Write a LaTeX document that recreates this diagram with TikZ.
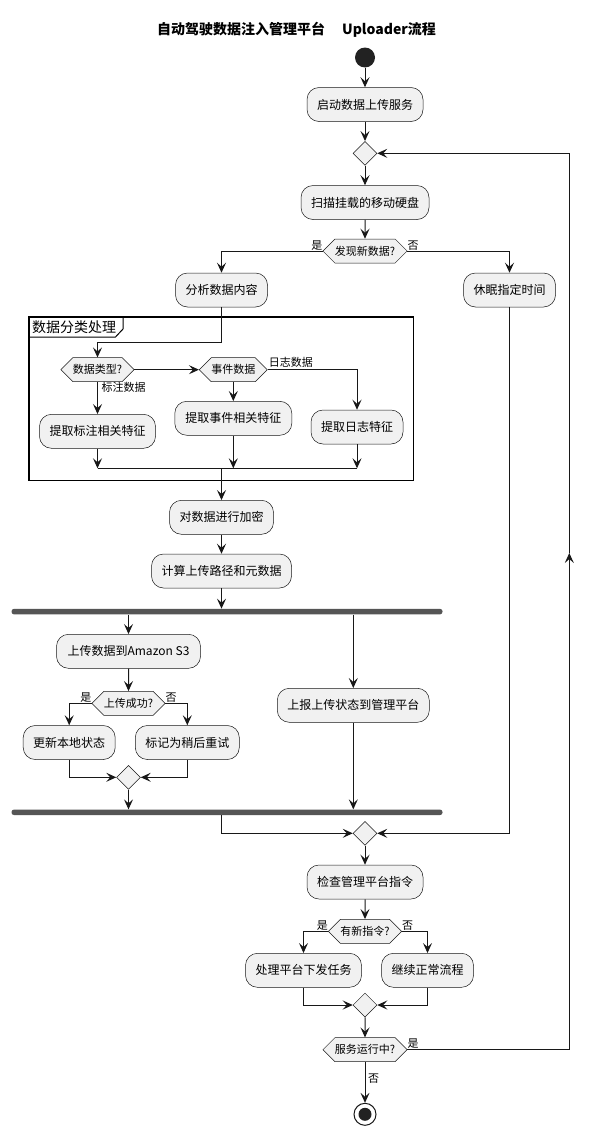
\documentclass[tikz,border=0pt]{standalone}
\usepackage{fontspec}
\setmainfont{Noto Sans CJK SC}
\usetikzlibrary{arrows.meta,shapes.symbols,shapes.geometric,calc}
\definecolor{lc}{HTML}{181818}
\definecolor{bx}{HTML}{F1F1F1}
\definecolor{barc}{HTML}{555555}
\definecolor{dotc}{HTML}{222222}
\begin{document}
\begin{tikzpicture}[x=1pt,y=-1pt,
  act/.style={draw=lc, line width=0.5pt, fill=bx, rounded corners=12pt, minimum height=34pt, inner xsep=10pt, inner ysep=0pt, font=\fontsize{12}{14}\selectfont},
  dec/.style={signal, signal to=west and east, signal pointer angle=90, draw=lc, line width=0.5pt, fill=bx, minimum height=24pt, inner xsep=0pt, inner ysep=0pt, font=\fontsize{11}{13}\selectfont},
  mrg/.style={diamond, aspect=1, draw=lc, line width=0.5pt, fill=bx, minimum width=24pt, minimum height=24pt, inner sep=0pt},
  conn/.style={draw=lc, line width=1pt},
  arr/.style={draw=lc, line width=1pt, -{Stealth[length=10pt,width=9pt,inset=4pt]}},
  lbl/.style={font=\fontsize{11}{13}\selectfont, inner sep=0pt},
  forkbar/.style={fill=barc, rounded corners=2.5pt, minimum width=431pt, minimum height=5.5pt, inner sep=0pt}
]
\useasboundingbox[fill=white] (0,0) rectangle (594,1135);

% title
\node[inner sep=0pt, font=\bfseries\fontsize{14}{16}\selectfont] (title) at (296.5,29.3) {自动驾驶数据注入管理平台\hspace{17pt}Uploader流程};

% frame
\node[draw=black, line width=1.5pt, minimum width=384.5pt, minimum height=163.5pt, inner sep=0pt] (fr) at (221.25,398.75) {};
\draw[line width=1pt] (29,337) -- (115.5,337) -- (123,329) -- (123,317);
\node[inner sep=0pt, anchor=west, font=\fontsize{14}{16}\selectfont] (frl) at (32,327) {数据分类处理};

% nodes
\node[circle, fill=dotc, minimum size=20pt, inner sep=0pt] (st) at (365,57.5) {};
\node[act, minimum width=116pt] (a1) at (365,104.5) {启动数据上传服务};
\node[mrg] (m1) at (365,153.3) {};
\node[act, minimum width=128pt] (a2) at (365,202.5) {扫描挂载的移动硬盘};
\node[dec, minimum width=84pt] (q1) at (365,251) {发现新数据?};
\node[act, minimum width=92pt] (a3) at (221.5,290) {分析数据内容};
\node[act, minimum width=92pt] (a4) at (509.5,290) {休眠指定时间};

\node[dec, minimum width=73pt] (q2) at (97.5,369.7) {数据类型?};
\node[dec, minimum width=67pt] (q3) at (233.3,369.7) {事件数据};
\node[act, minimum width=116pt] (b1) at (97.5,431.3) {提取标注相关特征};
\node[act, minimum width=117pt] (b2) at (233.3,418.3) {提取事件相关特征};
\node[act, minimum width=91pt] (b3) at (357,427) {提取日志特征};

\node[act, minimum width=104pt] (c1) at (221.5,517.3) {对数据进行加密};
\node[act, minimum width=140pt] (c2) at (221.5,571) {计算上传路径和元数据};

\node[forkbar] (f1) at (227,611.6) {};
\node[act, minimum width=144pt] (d1) at (128.5,651.3) {上传数据到Amazon S3};
\node[dec, minimum width=72pt] (q4) at (128.5,703.3) {上传成功?};
\node[act, minimum width=91pt] (d2) at (69.2,742.5) {更新本地状态};
\node[act, minimum width=104pt] (d3) at (187.3,742.5) {标记为稍后重试};
\node[mrg] (m2) at (128.5,777.3) {};
\node[act, minimum width=152pt] (d4) at (353.3,705.3) {上报上传状态到管理平台};
\node[forkbar] (f2) at (227,812.3) {};

\node[mrg] (m3) at (365,833.3) {};
\node[act, minimum width=116pt] (e1) at (365,882) {检查管理平台指令};
\node[dec, minimum width=73pt] (q5) at (365,931.3) {有新指令?};
\node[act, minimum width=115pt] (e2) at (303.5,970.3) {处理平台下发任务};
\node[act, minimum width=92pt] (e3) at (427.5,970.3) {继续正常流程};
\node[mrg] (m4) at (365,1005) {};
\node[dec, minimum width=84pt] (q6) at (365,1049.7) {服务运行中?};
\node[circle, draw=lc, line width=1pt, fill=white, minimum size=22pt, inner sep=0pt] (en) at (365,1114.3) {};
\node[circle, fill=dotc, minimum size=13pt, inner sep=0pt] (en2) at (en.center) {};

% helper coordinates
\coordinate (k1) at (221.5,342.3);
\coordinate (jn) at (221.5,468.3);
\coordinate (lb) at (569.3,1049.7);
\coordinate (lm) at (569.3,553);
\coordinate (lt) at (569.3,153.3);

% connectors
\draw[arr] (st) -- (a1);
\draw[arr] (a1) -- (m1);
\draw[arr] (m1) -- (a2);
\draw[arr] (a2) -- (q1);
\draw[arr] (q1.west) -| (a3.north);
\draw[arr] (q1.east) -| (a4.north);
\node[lbl, anchor=east] at ([yshift=5pt]q1.west) {是};
\node[lbl, anchor=west] at ([yshift=5pt]q1.east) {否};

\draw[arr] (a3.south) -- (k1) -| (q2.north);
\draw[arr] (q2.east) -- (q3.west);
\draw[arr] (q2.south) -- (b1.north);
\node[lbl, anchor=north west] at ([xshift=4pt,yshift=-0.5pt]q2.south) {标注数据};
\draw[arr] (q3.south) -- (b2.north);
\draw[arr] (q3.east) -| (b3.north);
\node[lbl, anchor=west] at ([xshift=1pt,yshift=7.5pt]q3.east) {日志数据};

\draw[arr] (b1.south) -- (b1.south |- jn);
\draw[arr] (b2.south) -- (b2.south |- jn);
\draw[arr] (b3.south) -- (b3.south |- jn);
\draw[conn] (b1.south |- jn) -- (b3.south |- jn);
\draw[arr] (jn) -- (c1.north);
\draw[arr] (c1) -- (c2);
\draw[arr] (c2.south) -- (c2.south |- f1.north);

\draw[arr] (f1.south -| d1.north) -- (d1.north);
\draw[arr] (f1.south -| d4.north) -- (d4.north);
\draw[arr] (d1) -- (q4);
\draw[arr] (q4.west) -| (d2.north);
\draw[arr] (q4.east) -| (d3.north);
\node[lbl, anchor=east] at ([yshift=5.5pt]q4.west) {是};
\node[lbl, anchor=west] at ([yshift=5.5pt]q4.east) {否};
\draw[arr] (d2.south) |- (m2.west);
\draw[arr] (d3.south) |- (m2.east);
\draw[arr] (m2.south) -- (m2.south |- f2.north);
\draw[arr] (d4.south) -- (d4.south |- f2.north);

\draw[arr] (f2.south -| c1.south) |- (m3.west);
\draw[arr] (a4.south) |- (m3.east);
\draw[arr] (m3) -- (e1);
\draw[arr] (e1) -- (q5);
\draw[arr] (q5.west) -| (e2.north);
\draw[arr] (q5.east) -| (e3.north);
\node[lbl, anchor=east] at ([yshift=6pt]q5.west) {是};
\node[lbl, anchor=west] at ([yshift=6pt]q5.east) {否};
\draw[arr] (e2.south) |- (m4.west);
\draw[arr] (e3.south) |- (m4.east);
\draw[arr] (m4) -- (q6);
\draw[arr] (q6.south) -- (en);
\node[lbl, anchor=west] at (368,1079) {否};
\draw[arr] (q6.east) -- (lb) -- (lm);
\draw[arr] (lm) -- (lt) -- (m1.east);
\node[lbl, anchor=west] at ([yshift=6.5pt]q6.east) {是};
\end{tikzpicture}
\end{document}
